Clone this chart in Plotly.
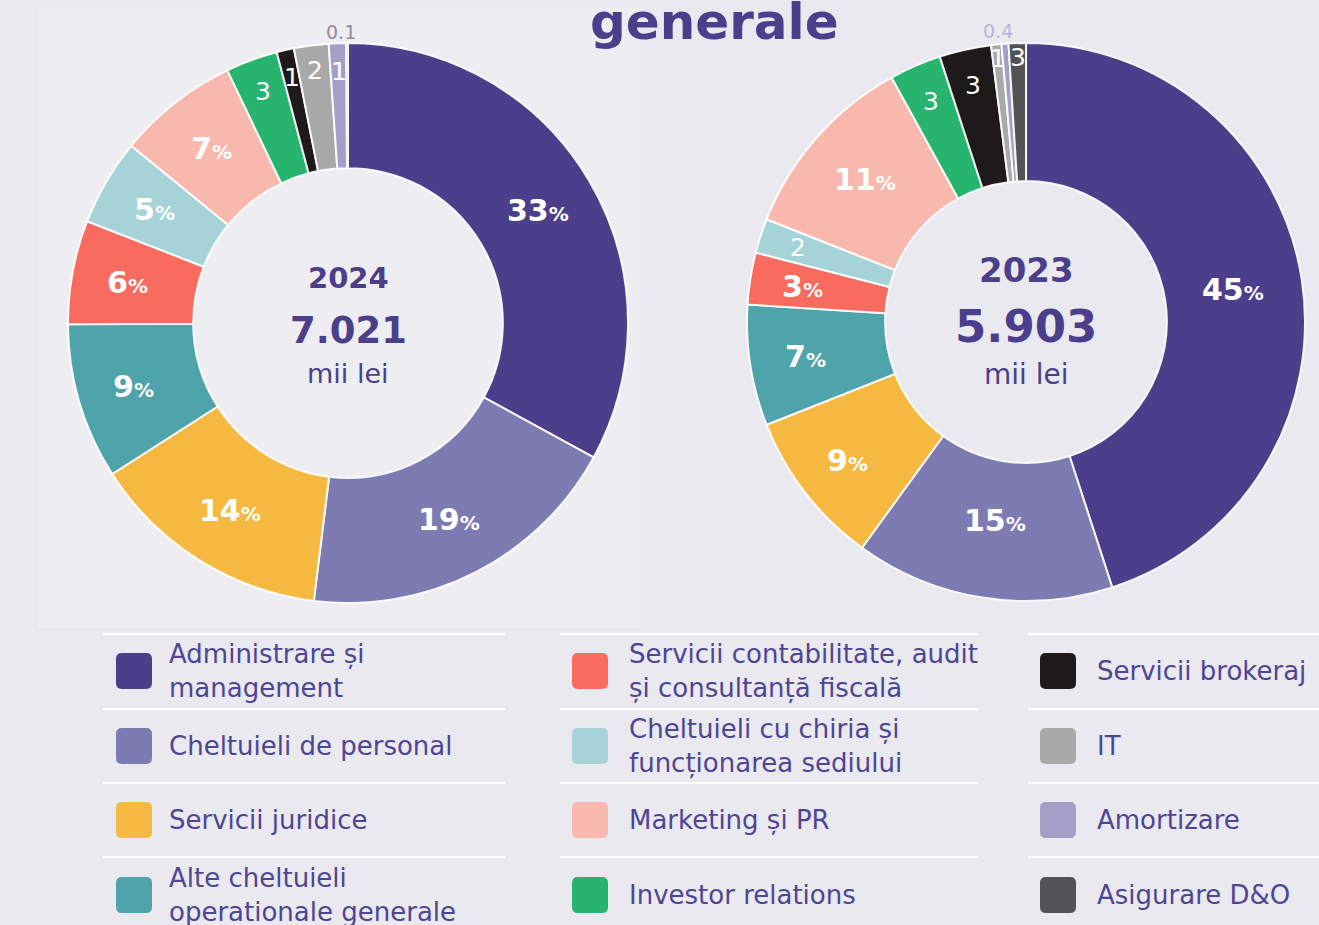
import math
import plotly.graph_objects as go

W, H = 1319, 925

categories = [
    "Administrare și management", "Cheltuieli de personal", "Servicii juridice",
    "Alte cheltuieli operationale generale", "Servicii contabilitate, audit și consultanță fiscală",
    "Cheltuieli cu chiria și funcționarea sediului", "Marketing și PR", "Investor relations",
    "Servicii brokeraj", "IT", "Amortizare", "Asigurare D&O",
]
legend_labels = [
    "Administrare și<br>management", "Cheltuieli de personal", "Servicii juridice",
    "Alte cheltuieli<br>operationale generale", "Servicii contabilitate, audit<br>și consultanță fiscală",
    "Cheltuieli cu chiria și<br>funcționarea sediului", "Marketing și PR", "Investor relations",
    "Servicii brokeraj", "IT", "Amortizare", "Asigurare D&O",
]
colors = ["#4B3F8B", "#7E7BB3", "#F5B941", "#4FA3AB", "#F96B5E", "#A5D3D8",
          "#F9B8AE", "#27B46F", "#1E1A1B", "#A9A9A9", "#A59FC8", "#535255"]

values_2024 = [33, 19, 14, 9, 6, 5, 7, 3, 1, 2, 1, 0.1]
labels_2024 = ["33%", "19%", "14%", "9%", "6%", "5%", "7%", "3", "1", "2", "1", "0.1"]
values_2023 = [45, 15, 9, 7, 3, 2, 11, 3, 3, 0.6, 0.4, 1.0]
labels_2023 = ["45%", "15%", "9%", "7%", "3%", "2", "11%", "3", "3", "1", "0.4", "3"]

years = ["2024", "2023"]
totals = ["7.021", "5.903"]
unit = "mii lei"

# style / layout (pixels)
pies = [
    dict(cx=348, cy=323, r=280, hole=0.553, values=values_2024, labels=labels_2024,
         lab_r=[0.79, 0.79, 0.79, 0.80, 0.80, 0.80, 0.79, 0.88, 0.90, 0.91, 0.90, 1.04],
         year_fs=29, tot_fs=37, unit_fs=27, year_y=278, tot_y=330, unit_y=373,
         out_col="#8E8BA0", out_dx=-6),
    dict(cx=1026, cy=322, r=279, hole=0.505, values=values_2023, labels=labels_2023,
         lab_r=[0.75, 0.72, 0.81, 0.80, 0.81, 0.86, 0.77, 0.86, 0.87, 0.95, 1.045, 0.95],
         year_fs=34, tot_fs=45, unit_fs=28, year_y=270, tot_y=327, unit_y=374,
         out_col="#B8B4DB", out_dx=-6),
]

TXT = "#4B3F8B"
LEG_TXT = "#4E4594"
BG = "#EAE9EF"
FONT = "DejaVu Sans"

fig = go.Figure()
annotations = []
shapes = []

def px2paper(x, y):
    return x / W, 1 - y / H

for p in pies:
    x0, y1 = px2paper(p["cx"] - p["r"], p["cy"] - p["r"])
    x1, y0 = px2paper(p["cx"] + p["r"], p["cy"] + p["r"])
    fig.add_trace(go.Pie(
        values=p["values"], labels=categories, sort=False, direction="clockwise",
        rotation=0, hole=p["hole"], textinfo="none", hoverinfo="label+value",
        marker=dict(colors=colors, line=dict(color="rgba(255,255,255,0.9)", width=2)),
        domain=dict(x=[x0, x1], y=[y0, y1]), showlegend=False,
    ))
    total = sum(p["values"])
    cum = 0
    for v, lab, fr in zip(p["values"], p["labels"], p["lab_r"]):
        mid = (cum + v / 2) / total * 2 * math.pi
        cum += v
        rr = fr * p["r"]
        lx = p["cx"] + rr * math.sin(mid)
        ly = p["cy"] - rr * math.cos(mid)
        if lab.endswith("%"):
            txt = "<b>%s</b><span style='font-size:20px'><b>%%</b></span>" % lab[:-1]
            font = dict(family=FONT, size=30, color="white")
        elif fr > 1:
            lx += p["out_dx"]
            txt = lab
            font = dict(family=FONT, size=19, color=p["out_col"])
        else:
            txt = lab
            font = dict(family=FONT, size=25, color="white")
        ax, ay = px2paper(lx, ly)
        annotations.append(dict(x=ax, y=ay, xref="paper", yref="paper", text=txt,
                                showarrow=False, font=font, xanchor="center", yanchor="middle"))

for p, yr, tot in zip(pies, years, totals):
    for txt, fs, yy in [("<b>%s</b>" % yr, p["year_fs"], p["year_y"]),
                        ("<b>%s</b>" % tot, p["tot_fs"], p["tot_y"]),
                        (unit, p["unit_fs"], p["unit_y"])]:
        ax, ay = px2paper(p["cx"], yy)
        annotations.append(dict(x=ax, y=ay, xref="paper", yref="paper", text=txt,
                                showarrow=False, font=dict(family=FONT, size=fs, color=TXT),
                                xanchor="center", yanchor="middle"))

# title (cut at top)
annotations.append(dict(x=714 / W, y=1 - 22 / H, xref="paper", yref="paper",
                        text="<b>generale</b>", showarrow=False,
                        font=dict(family=FONT, size=50, color="#4B3F8B"),
                        xanchor="center", yanchor="middle"))

# lighter panel behind left donut
shapes.append(dict(type="rect", xref="paper", yref="paper", layer="below",
                   x0=38 / W, x1=640 / W, y0=1 - 628 / H, y1=1 - 8 / H,
                   fillcolor="#EEEDF2", line=dict(width=0)))

# custom legend
col_lines = [(103, 505), (560, 978), (1028, 1319)]
sw_left = [116, 572, 1040]
txt_left = [167, 627, 1095]
row_lines = [634, 709, 783, 857]
row_centers = [671, 746, 820, 895]
sw = 36
rad = 6

def P(x, y):
    return "%.5f,%.5f" % (x / W, 1 - y / H)

for c in range(3):
    for r in range(4):
        yl = 1 - row_lines[r] / H
        shapes.append(dict(type="line", xref="paper", yref="paper",
                           x0=col_lines[c][0] / W, x1=col_lines[c][1] / W, y0=yl, y1=yl,
                           line=dict(color="white", width=2)))
    for r in range(4):
        i = c * 4 + r
        xa, xb = sw_left[c], sw_left[c] + sw
        ya, yb = row_centers[r] - sw / 2, row_centers[r] + sw / 2
        path = ("M " + P(xa + rad, ya) + " L " + P(xb - rad, ya) +
                " Q " + P(xb, ya) + " " + P(xb, ya + rad) +
                " L " + P(xb, yb - rad) + " Q " + P(xb, yb) + " " + P(xb - rad, yb) +
                " L " + P(xa + rad, yb) + " Q " + P(xa, yb) + " " + P(xa, yb - rad) +
                " L " + P(xa, ya + rad) + " Q " + P(xa, ya) + " " + P(xa + rad, ya) + " Z")
        shapes.append(dict(type="path", xref="paper", yref="paper", path=path,
                           fillcolor=colors[i], line=dict(width=0)))
        annotations.append(dict(x=txt_left[c] / W, y=1 - row_centers[r] / H,
                                xref="paper", yref="paper", text=legend_labels[i],
                                showarrow=False, align="left",
                                font=dict(family=FONT, size=26, color=LEG_TXT),
                                xanchor="left", yanchor="middle"))

fig.update_layout(
    width=W, height=H, margin=dict(l=0, r=0, t=0, b=0),
    paper_bgcolor=BG, plot_bgcolor=BG,
    annotations=annotations, shapes=shapes, showlegend=False,
)
fig.write_html("out.html", config={"displayModeBar": False},
               post_script="document.body.style.margin='0px';document.body.style.overflow='hidden';")
